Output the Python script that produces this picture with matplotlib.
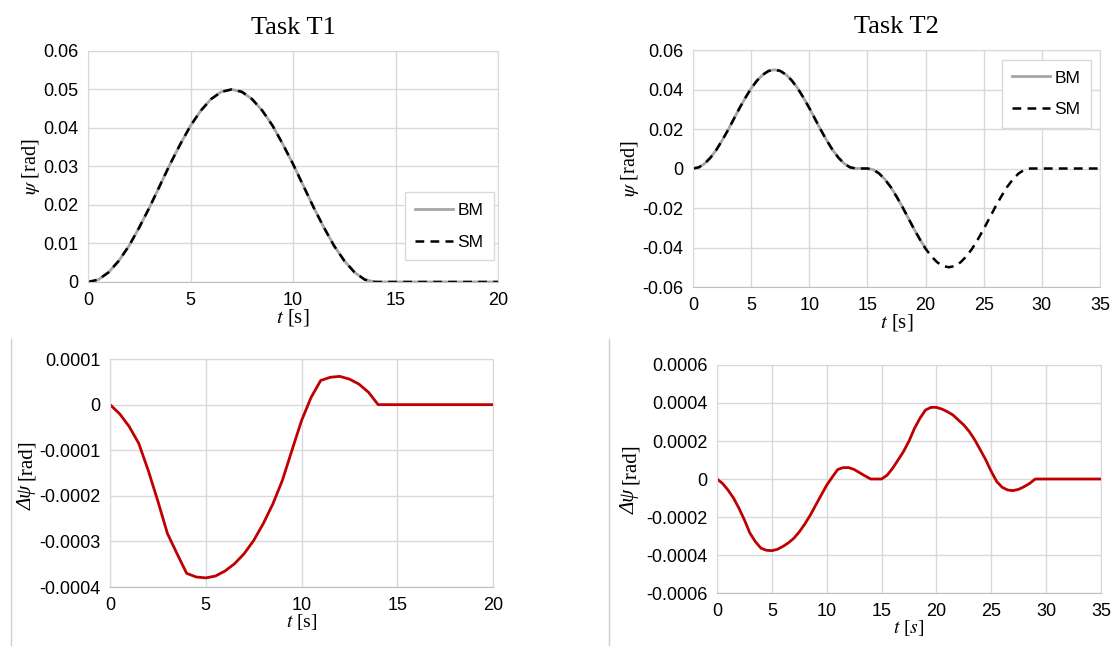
import numpy as np
import matplotlib
matplotlib.use("Agg")
import matplotlib.pyplot as plt
from matplotlib.lines import Line2D

plt.rcParams['font.family'] = ['Liberation Sans', 'DejaVu Sans']
plt.rcParams['mathtext.fontset'] = 'stix'

# Task T1 - psi (BM and SM overlap)
t1 = np.arange(0, 20.5, 0.5)
psi_t1 = np.array([0, 0.0006, 0.0025, 0.0055, 0.0094, 0.0142, 0.0194, 0.025,
                   0.0306, 0.0358, 0.0406, 0.0445, 0.0475, 0.0494, 0.05, 0.0494,
                   0.0475, 0.0445, 0.0406, 0.0358, 0.0306, 0.025, 0.0194, 0.0142,
                   0.0094, 0.0055, 0.0025, 0.0006, 0,
                   0, 0, 0, 0, 0, 0, 0, 0, 0, 0, 0, 0])
psi_t1_bm = psi_t1
psi_t1_sm = psi_t1

# Task T2 - psi
t2 = np.arange(0, 35.5, 0.5)
psi_t2 = np.array([0, 0.0006, 0.0025, 0.0055, 0.0094, 0.0142, 0.0194, 0.025,
                   0.0306, 0.0358, 0.0406, 0.0445, 0.0475, 0.0494, 0.05, 0.0494,
                   0.0475, 0.0445, 0.0406, 0.0358, 0.0306, 0.025, 0.0194, 0.0142,
                   0.0094, 0.0055, 0.0025, 0.0006, 0, 0, 0,
                   -0.0006, -0.0025, -0.0055, -0.0094, -0.0142, -0.0194, -0.025,
                   -0.0306, -0.0358, -0.0406, -0.0445, -0.0475, -0.0494, -0.05,
                   -0.0494, -0.0475, -0.0445, -0.0406, -0.0358, -0.0306, -0.025,
                   -0.0194, -0.0142, -0.0094, -0.0055, -0.0025, -0.0006, 0,
                   0, 0, 0, 0, 0, 0, 0, 0, 0, 0, 0, 0])
t2_bm = t2[t2 <= 20]          # BM only shown up to 20 s
psi_t2_bm = psi_t2[:len(t2_bm)]
psi_t2_sm = psi_t2

# Task T1 - difference
dt1 = np.arange(0, 20.5, 0.5)
dpsi_t1 = np.array([0, -0.00002, -0.000048, -0.000085, -0.000145, -0.000212,
                    -0.000283, -0.000327, -0.00037, -0.000378, -0.00038, -0.000376,
                    -0.000365, -0.000349, -0.000327, -0.000298, -0.000261, -0.000218,
                    -0.000166, -0.0001, -0.000035, 0.000016, 0.000053, 0.00006,
                    0.000062, 0.000056, 0.000045, 0.000027, 0,
                    0, 0, 0, 0, 0, 0, 0, 0, 0, 0, 0, 0])

# Task T2 - difference
dt2 = np.arange(0, 35.5, 0.5)
dpsi_t2 = np.array([0, -0.000023, -0.000058, -0.0001, -0.000154, -0.000216,
                    -0.000285, -0.00033, -0.000364, -0.000375, -0.000377, -0.00037,
                    -0.000355, -0.000336, -0.000312, -0.000278, -0.000237, -0.00019,
                    -0.000137, -0.000084, -0.000032, 0.00001, 0.00005, 0.00006,
                    0.00006, 0.00005, 0.000033, 0.000016, 0, 0, 0,
                    0.00002, 0.000056, 0.0001, 0.000145, 0.0002, 0.000267, 0.00032,
                    0.000363, 0.000377, 0.000377, 0.000368, 0.000354, 0.000337,
                    0.00031, 0.000284, 0.000249, 0.000205, 0.000153, 0.0001,
                    0.000039, -0.000014, -0.000044, -0.000058, -0.000061, -0.000054,
                    -0.00004, -0.000023, 0,
                    0, 0, 0, 0, 0, 0, 0, 0, 0, 0, 0, 0])

grid_c = '#d9d9d9'
red = '#c00000'
serif = 'Liberation Serif'

fig = plt.figure(figsize=(11.16, 6.46), dpi=100)
ax1 = fig.add_axes([0.0789, 0.5635, 0.3674, 0.3576])
ax2 = fig.add_axes([0.621, 0.5557, 0.3647, 0.3669])
ax3 = fig.add_axes([0.0986, 0.0913, 0.3432, 0.3529])
ax4 = fig.add_axes([0.6425, 0.082, 0.3441, 0.353])


def style(ax, xmax, ylim, yticks, ylabels):
    ax.set_xlim(0, xmax)
    ax.set_ylim(*ylim)
    ax.set_xticks(np.arange(0, xmax + 1, 5))
    ax.set_yticks(yticks)
    ax.set_yticklabels(ylabels)
    ax.grid(True, color=grid_c, linewidth=1)
    ax.set_axisbelow(True)
    for s in ax.spines.values():
        s.set_color(grid_c)
    ax.spines['bottom'].set_color('#bfbfbf')
    ax.tick_params(length=0, labelsize=13, pad=7, colors='black')


leg_kw = dict(fontsize=12.5, fancybox=False, edgecolor=grid_c, framealpha=1,
              handlelength=2.2, labelspacing=0.95, borderpad=0.6,
              handletextpad=0.25, borderaxespad=0)

# top left
ax1.plot(t1, psi_t1_bm, color='#a6a6a6', lw=2, label='BM')
ax1.plot(t1, psi_t1_sm, color='black', lw=1.8, ls=(0, (3.5, 2.5)), label='SM')
style(ax1, 20, (0, 0.06), np.arange(0, 0.061, 0.01),
      ['0', '0.01', '0.02', '0.03', '0.04', '0.05', '0.06'])
ax1.set_title('Task T1', fontfamily=serif, fontsize=19, pad=12)
ax1.set_xlabel(r'$t$ [s]', fontfamily=serif, fontsize=15, labelpad=-1)
ax1.set_ylabel(r'$\psi$ [rad]', fontfamily=serif, fontsize=14.5, labelpad=1)
ax1.legend(loc='lower right', bbox_to_anchor=(0.99, 0.095), **leg_kw)

# top right
ax2.plot(t2_bm, psi_t2_bm, color='#a6a6a6', lw=2, label='BM')
ax2.plot(t2, psi_t2_sm, color='black', lw=1.8, ls=(0, (3.5, 2.5)), label='SM')
style(ax2, 35, (-0.06, 0.06), np.arange(-0.06, 0.061, 0.02),
      ['-0.06', '-0.04', '-0.02', '0', '0.02', '0.04', '0.06'])
ax2.set_title('Task T2', fontfamily=serif, fontsize=19, pad=12)
ax2.set_xlabel(r'$t$ [s]', fontfamily=serif, fontsize=15, labelpad=-1)
ax2.set_ylabel(r'$\psi$ [rad]', fontfamily=serif, fontsize=14.5, labelpad=1)
ax2.legend(loc='upper right', bbox_to_anchor=(0.978, 0.958), **leg_kw)

# bottom left
ax3.plot(dt1, dpsi_t1, color=red, lw=2)
style(ax3, 20, (-0.0004, 0.0001), np.arange(-0.0004, 0.00011, 0.0001),
      ['-0.0004', '-0.0003', '-0.0002', '-0.0001', '0', '0.0001'])
ax3.set_xlabel(r'$t$ [s]', fontfamily=serif, fontsize=14, labelpad=-1)

# bottom right
ax4.plot(dt2, dpsi_t2, color=red, lw=2)
style(ax4, 35, (-0.0006, 0.0006), np.arange(-0.0006, 0.00061, 0.0002),
      ['-0.0006', '-0.0004', '-0.0002', '0', '0.0002', '0.0004', '0.0006'])
ax4.set_xlabel(r'$t$ [$s$]', fontfamily=serif, fontsize=14, labelpad=-1)

# bottom y labels: italic "Δψ" followed by upright "[rad]"
for xp, ysplit in [(27, 482), (630, 486)]:
    fig.text(xp / 1116, 1 - (ysplit + 3) / 646, 'Δψ', rotation=90, ha='center', va='top',
             fontfamily=serif, fontstyle='italic', fontsize=15)
    fig.text(xp / 1116, 1 - (ysplit - 2) / 646, '[rad]', rotation=90, ha='center', va='bottom',
             fontfamily=serif, fontsize=15)

# separators
fig.add_artist(Line2D([11 / 1116, 11 / 1116], [0, 1 - 339 / 646], color='#cfcfcf', lw=1))
fig.add_artist(Line2D([609 / 1116, 609 / 1116], [0, 1 - 339 / 646], color='#cfcfcf', lw=1))

fig.savefig('out.png', dpi=100)
